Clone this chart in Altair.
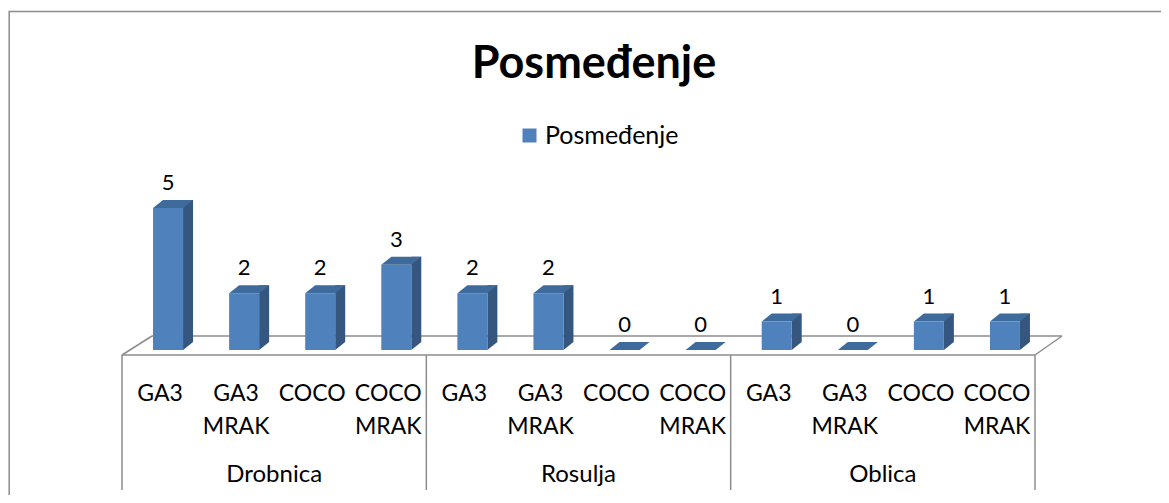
import altair as alt
import pandas as pd

# ---- data ----
groups = ["Drobnica"] * 4 + ["Rosulja"] * 4 + ["Oblica"] * 4
treatments = ["GA3", "GA3 MRAK", "COCO", "COCO MRAK"] * 3
values = [5, 2, 2, 3, 2, 2, 0, 0, 1, 0, 1, 1]
series_name = "Posmeđenje"
title_text = "Posmeđenje"
group_names = ["Drobnica", "Rosulja", "Oblica"]

cats = [f"{g}|{t}" for g, t in zip(groups, treatments)]
df = pd.DataFrame({"cat": cats, "group": groups, "treat": treatments,
                   "value": values, "series": series_name, "zero": 0})

group_first = pd.DataFrame({"cat": [cats[i] for i in (0, 4, 8)]})
group_last = pd.DataFrame({"cat": [cats[11]]})
group_mid = pd.DataFrame({"cat": [cats[i] for i in (1, 5, 9)], "group": group_names})
title_df = pd.DataFrame({"t": [title_text]})
deco_df = pd.DataFrame({"d": [0]})

FONT = "Lato"
W, H = 913, 284
FRONT = "#4F81BD"
SIDE = "#34567F"
TOP = "#3F6A9C"
GRID = "#8c8c8c"

xscale = alt.Scale(domain=cats, paddingInner=0, paddingOuter=0)
yscale = alt.Scale(domain=[0, 10], nice=False, zero=True)
xaxis = alt.Axis(labelExpr="split(split(datum.label, '|')[1], ' ')",
                 labelAngle=0, labelFont=FONT, labelFontSize=23,
                 labelColor="black", labelLineHeight=33,
                 labelBaseline="alphabetic", labelPadding=50,
                 labelOverlap=False, title=None,
                 ticks=False, domain=False, grid=False)


def X(band=0.5):
    return alt.X("cat:N", scale=xscale, axis=xaxis, bandPosition=band)


Y = alt.Y("value:Q", scale=yscale, axis=None)
Y0 = alt.Y("zero:Q", scale=yscale, axis=None)

base = alt.Chart(df)

# outer border (top/left visible, right/bottom run off the picture)
border = alt.Chart(deco_df).mark_rect(fillOpacity=0, stroke=GRID, strokeWidth=1.5).encode(
    x=alt.value(-112.8), x2=alt.value(1100), y=alt.value(-54.5), y2=alt.value(700))

rule = dict(color=GRID, strokeWidth=1.5)
floor_front = alt.Chart(deco_df).mark_rule(**rule).encode(
    x=alt.value(0), x2=alt.value(913), y=alt.value(289), y2=alt.value(289))
floor_back = alt.Chart(deco_df).mark_rule(**rule).encode(
    x=alt.value(30), x2=alt.value(940), y=alt.value(270), y2=alt.value(270))
floor_l = alt.Chart(deco_df).mark_rule(**rule).encode(
    x=alt.value(0), x2=alt.value(30), y=alt.value(289), y2=alt.value(270))
floor_r = alt.Chart(deco_df).mark_rule(**rule).encode(
    x=alt.value(913), x2=alt.value(940), y=alt.value(289), y2=alt.value(270))

# 3D bars: side face, front face, top face
side = base.mark_bar(width=10, xOffset=28, yOffset=-8, y2Offset=-8, color=SIDE).encode(
    x=X(), y=Y)
side_bottom = base.transform_filter("datum.value > 0").mark_point(
    shape="M0.46,0L0.46,-0.16L0.66,-0.16Z", size=10000, filled=True,
    color=SIDE, opacity=1, strokeWidth=0).encode(x=X(), y=Y0)
front = base.mark_bar(width=30, xOffset=8).encode(
    x=X(), y=Y,
    color=alt.Color("series:N",
                    scale=alt.Scale(domain=[series_name], range=[FRONT]),
                    legend=alt.Legend(orient="none", legendX=395, legendY=57,
                                      title=None, symbolType="square",
                                      symbolSize=196, symbolStrokeWidth=0,
                                      labelFont=FONT, labelFontSize=25,
                                      labelColor="black", labelOffset=3,
                                      padding=0)))
top = base.mark_point(
    shape="M-0.14,0L0.46,0L0.66,-0.16L0.06,-0.16Z", size=10000, filled=True,
    color=TOP, opacity=1, strokeWidth=0).encode(x=X(), y=Y)

labels = base.mark_text(font=FONT, fontSize=22, dx=8, dy=-18,
                        baseline="alphabetic", color="black").encode(
    x=X(), y=Y, text="value:Q")

# group dividers
div1 = alt.Chart(group_first).mark_rule(**rule).encode(
    x=X(0), y=alt.value(289), y2=alt.value(424))
div2 = alt.Chart(group_last).mark_rule(**rule).encode(
    x=X(1), y=alt.value(289), y2=alt.value(424))

group_labels = alt.Chart(group_mid).mark_text(
    font=FONT, fontSize=24, baseline="alphabetic", color="black").encode(
    x=X(1), y=alt.value(416), text="group:N")

title = alt.Chart(title_df).mark_text(
    font=FONT, fontSize=45, fontWeight="bold", baseline="alphabetic",
    color="black").encode(x=alt.value(472), y=alt.value(12), text="t:N")

chart = alt.layer(
    border, floor_back, floor_l, floor_r, floor_front,
    side, side_bottom, front, top, labels, div1, div2, group_labels, title
).properties(
    width=W, height=H,
    background="white",
    autosize=alt.AutoSizeParams(type="none"),
    padding={"left": 114, "top": 58, "right": 126, "bottom": 145},
).configure_view(strokeWidth=0, stroke="transparent")

chart.save("out.html", embed_options={"renderer": "svg", "actions": False})
